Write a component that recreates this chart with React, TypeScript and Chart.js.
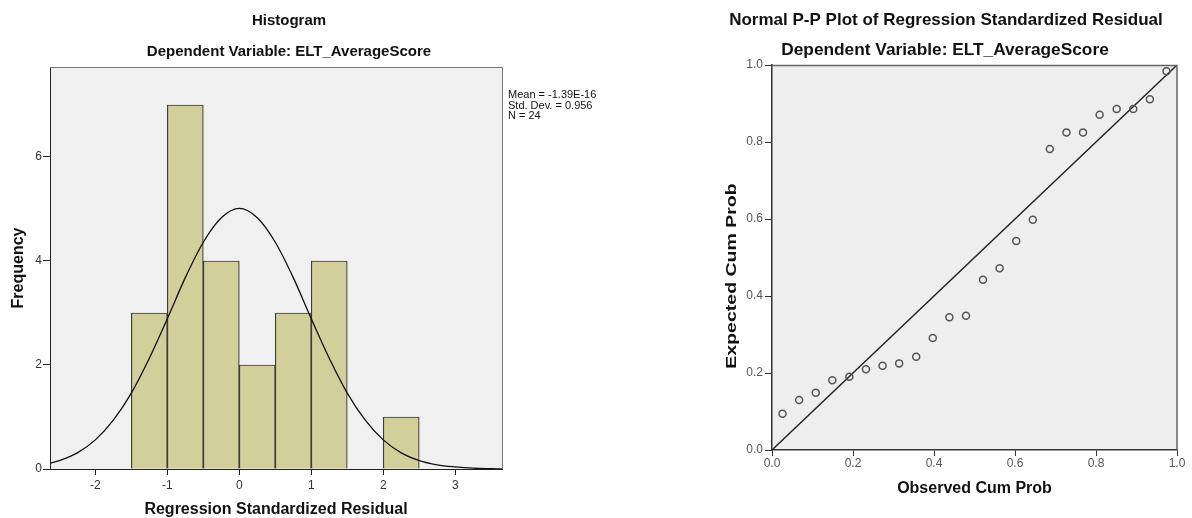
import React, { useEffect, useRef } from "react";
import { Chart, registerables } from "chart.js";

Chart.register(...registerables);

// ---------- Histogram data ----------
const binCenters = [-1.25, -0.75, -0.25, 0.25, 0.75, 1.25, 2.25];
const binCounts = [3, 7, 4, 2, 3, 4, 1];
const curveX = [-2.63, -2.5, -2.25, -2.0, -1.75, -1.5, -1.25, -1.0, -0.75, -0.5, -0.25, 0, 0.25, 0.5, 0.75, 1.0, 1.25, 1.5, 1.75, 2.0, 2.25, 2.5, 2.75, 3.0, 3.25, 3.5, 3.65];
const curveY = [0.11, 0.16, 0.31, 0.56, 0.94, 1.46, 2.13, 2.89, 3.68, 4.36, 4.83, 5.01, 4.83, 4.36, 3.68, 2.89, 2.13, 1.46, 0.94, 0.56, 0.31, 0.16, 0.08, 0.04, 0.015, 0.006, 0.003];
const histXTicks = [-2, -1, 0, 1, 2, 3];
const histYTicks = [0, 2, 4, 6];
const histXMin = -2.63;
const histXMax = 3.65;
const histYMax = 7.73;
const histTitle = "Histogram";
const depTitle = "Dependent Variable: ELT_AverageScore";
const statsLines = ["Mean = -1.39E-16", "Std. Dev. = 0.956", "N = 24"];

// ---------- P-P plot data ----------
const observedCum = [0.026, 0.067, 0.108, 0.149, 0.191, 0.232, 0.273, 0.314, 0.356, 0.397, 0.438, 0.479, 0.521, 0.562, 0.603, 0.644, 0.686, 0.727, 0.768, 0.809, 0.851, 0.892, 0.933, 0.974];
const expectedCum = [0.094, 0.130, 0.149, 0.181, 0.190, 0.210, 0.219, 0.225, 0.242, 0.291, 0.345, 0.349, 0.442, 0.472, 0.543, 0.598, 0.782, 0.825, 0.825, 0.871, 0.886, 0.886, 0.911, 0.984];
const refLine = [0, 1];
const ppTicks = [0, 0.2, 0.4, 0.6, 0.8, 1.0];
const ppTitle = "Normal P-P Plot of Regression Standardized Residual";
const ppYTitle = "Expected Cum Prob";

const FONT = "'Liberation Sans', Arial, sans-serif";

function makeHistogram(canvas: HTMLCanvasElement) {
  const plugin = {
    id: "histDecor",
    beforeDraw(chart: any) {
      const { ctx, chartArea: a } = chart;
      ctx.save();
      ctx.fillStyle = "#f0f0f0";
      ctx.fillRect(a.left, a.top, a.right - a.left, a.bottom - a.top);
      ctx.restore();
    },
    afterDraw(chart: any) {
      const { ctx, chartArea: a } = chart;
      ctx.save();
      ctx.strokeStyle = "#767676";
      ctx.lineWidth = 1;
      ctx.beginPath();
      ctx.moveTo(a.left, a.top + 0.5);
      ctx.lineTo(a.right + 0.5, a.top + 0.5);
      ctx.lineTo(a.right + 0.5, a.bottom);
      ctx.stroke();
      ctx.fillStyle = "#111";
      ctx.textAlign = "center";
      ctx.textBaseline = "middle";
      ctx.font = `bold 15px ${FONT}`;
      ctx.fillText(histTitle, 289, 21);
      ctx.fillText(depTitle, 289, 52);
      ctx.textAlign = "left";
      ctx.font = `11px ${FONT}`;
      statsLines.forEach((t, i) => {
        ctx.fillText(t, 508, 95 + i * 10.5);
      });
      ctx.restore();
    },
  };

  return new Chart(canvas, {
    type: "bar",
    data: {
      datasets: [
        {
          type: "line",
          data: curveX.map((x, i) => ({ x, y: curveY[i] })),
          borderColor: "#111",
          borderWidth: 1.3,
          pointRadius: 0,
          cubicInterpolationMode: "monotone",
          order: 1,
        } as any,
        {
          type: "bar",
          data: binCenters.map((x, i) => ({ x, y: binCounts[i] })),
          backgroundColor: "#d3cf9b",
          borderColor: "#3c3c3c",
          borderWidth: 1.2,
          barPercentage: 1,
          categoryPercentage: 1,
          order: 2,
        } as any,
      ],
    },
    options: {
      animation: false,
      responsive: false,
      layout: { padding: { left: 0, top: 67, right: 98, bottom: 0 } },
      plugins: { legend: { display: false }, tooltip: { enabled: false }, title: { display: false } },
      scales: {
        x: {
          type: "linear",
          min: histXMin,
          max: histXMax,
          offset: false,
          afterBuildTicks: (s: any) => {
            s.ticks = histXTicks.map((v) => ({ value: v }));
          },
          afterFit: (s: any) => {
            s.height = 49;
          },
          grid: { display: true, drawOnChartArea: false, drawTicks: true, tickLength: 6, color: "#222", offset: false },
          border: { display: true, color: "#222", width: 1 },
          ticks: { color: "#333", font: { family: FONT, size: 12 }, padding: 3, maxRotation: 0 },
          title: {
            display: true,
            text: "Regression Standardized Residual",
            color: "#111",
            font: { family: FONT, size: 16, weight: "bold", lineHeight: 1 },
            padding: { top: 0, bottom: 0 },
          },
        },
        y: {
          type: "linear",
          min: 0,
          max: histYMax,
          afterBuildTicks: (s: any) => {
            s.ticks = histYTicks.map((v) => ({ value: v }));
          },
          afterFit: (s: any) => {
            s.width = 50;
          },
          grid: { display: true, drawOnChartArea: false, drawTicks: true, tickLength: 7, color: "#222" },
          border: { display: true, color: "#222", width: 1 },
          ticks: { color: "#333", font: { family: FONT, size: 12 }, padding: 1 },
          title: {
            display: true,
            text: "Frequency",
            color: "#111",
            font: { family: FONT, size: 16, weight: "bold", lineHeight: 1.2 },
            padding: { top: 9, bottom: 0 },
          },
        },
      },
    },
    plugins: [plugin],
  } as any);
}

function makePP(canvas: HTMLCanvasElement) {
  const plugin = {
    id: "ppDecor",
    beforeDraw(chart: any) {
      const { ctx, chartArea: a } = chart;
      ctx.save();
      ctx.fillStyle = "#eeeeee";
      ctx.fillRect(a.left, a.top, a.right - a.left, a.bottom - a.top);
      ctx.restore();
    },
    afterDraw(chart: any) {
      const { ctx, chartArea: a } = chart;
      ctx.save();
      ctx.strokeStyle = "#666";
      ctx.lineWidth = 1.5;
      ctx.beginPath();
      ctx.moveTo(a.left, a.top + 0.5);
      ctx.lineTo(a.right, a.top + 0.5);
      ctx.lineTo(a.right, a.bottom);
      ctx.stroke();
      ctx.fillStyle = "#111";
      ctx.textAlign = "center";
      ctx.textBaseline = "middle";
      ctx.font = `bold 17px ${FONT}`;
      ctx.fillText(ppTitle, 346, 20);
      ctx.font = `bold 17.3px ${FONT}`;
      ctx.fillText(depTitle, 345, 50);
      // stretched vertical axis title, as in the reference
      ctx.font = `bold 15px ${FONT}`;
      ctx.translate(131.5, 276);
      ctx.rotate(-Math.PI / 2);
      ctx.scale(1.3, 1);
      ctx.fillText(ppYTitle, 0, 0);
      ctx.restore();
    },
  };

  return new Chart(canvas, {
    type: "scatter",
    data: {
      datasets: [
        {
          type: "line",
          data: refLine.map((v) => ({ x: v, y: v })),
          borderColor: "#222",
          borderWidth: 1.4,
          pointRadius: 0,
          order: 2,
        } as any,
        {
          type: "scatter",
          data: observedCum.map((x, i) => ({ x, y: expectedCum[i] })),
          pointStyle: "circle",
          pointRadius: 3.5,
          borderColor: "#555",
          backgroundColor: "rgba(0,0,0,0)",
          borderWidth: 1.5,
          order: 1,
        } as any,
      ],
    },
    options: {
      animation: false,
      responsive: false,
      layout: { padding: { left: 110, top: 65, right: 15, bottom: 0 } },
      plugins: { legend: { display: false }, tooltip: { enabled: false }, title: { display: false } },
      scales: {
        x: {
          type: "linear",
          min: 0,
          max: 1,
          afterBuildTicks: (s: any) => {
            s.ticks = ppTicks.map((v) => ({ value: v }));
          },
          afterFit: (s: any) => {
            s.height = 68;
          },
          grid: { display: true, drawOnChartArea: false, drawTicks: true, tickLength: 6, color: "#333" },
          border: { display: true, color: "#333", width: 1.5 },
          ticks: { color: "#555", font: { family: FONT, size: 12 }, padding: 0, maxRotation: 0, callback: (v: any) => Number(v).toFixed(1) },
          title: {
            display: true,
            text: "Observed Cum Prob",
            color: "#111",
            font: { family: FONT, size: 16, weight: "bold", lineHeight: 1 },
            padding: { top: 0, bottom: 21 },
          },
        },
        y: {
          type: "linear",
          min: 0,
          max: 1,
          afterBuildTicks: (s: any) => {
            s.ticks = ppTicks.map((v) => ({ value: v }));
          },
          afterFit: (s: any) => {
            s.width = 62;
          },
          grid: { display: true, drawOnChartArea: false, drawTicks: true, tickLength: 7, color: "#333" },
          border: { display: true, color: "#333", width: 1.5 },
          ticks: { color: "#555", font: { family: FONT, size: 12 }, padding: 2, callback: (v: any) => Number(v).toFixed(1) },
          title: { display: false },
        },
      },
    },
    plugins: [plugin],
  } as any);
}

export default function App() {
  const leftRef = useRef<HTMLCanvasElement>(null);
  const rightRef = useRef<HTMLCanvasElement>(null);

  useEffect(() => {
    const c1 = makeHistogram(leftRef.current!);
    const c2 = makePP(rightRef.current!);
    return () => {
      c1.destroy();
      c2.destroy();
    };
  }, []);

  return (
    <div style={{ position: "absolute", left: 0, top: 0, width: 1192, height: 518, background: "#fff", overflow: "hidden" }}>
      <canvas ref={leftRef} width={600} height={518} style={{ position: "absolute", left: 0, top: 0, width: 600, height: 518 }} />
      <canvas ref={rightRef} width={592} height={518} style={{ position: "absolute", left: 600, top: 0, width: 592, height: 518 }} />
    </div>
  );
}
